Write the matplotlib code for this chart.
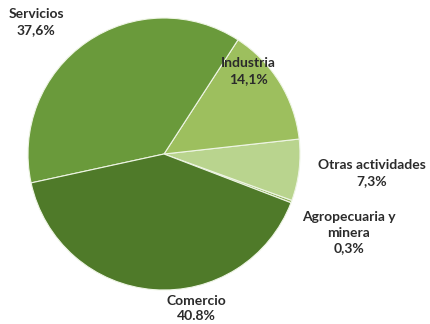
import matplotlib as mpl
mpl.use('Agg')
import matplotlib.pyplot as plt

# --- sector shares (counterclockwise from the small wedge at the right)
sectors = ['Agropecuaria y\nminera', 'Otras actividades', 'Industria', 'Servicios', 'Comercio']
shares = [0.3, 7.3, 14.1, 37.6, 40.8]
share_text = ['0,3%', '7,3%', '14,1%', '37,6%', '40.8%']
colors = ['#8fb25a', '#b9d48e', '#9dbf5e', '#6a9a3b', '#4f7a29']

# label anchor points in axis units (pie radius = 1)
label_xy = [(1.36, -0.58), (1.526, -0.14), (0.62, 0.61), (-0.94, 0.97), (0.235, -1.135)]

fig = plt.figure(figsize=(4.3, 3.24), dpi=100)
ax = fig.add_axes([0.0651, 0.1049, 0.6326, 0.8395])

ax.pie(shares, colors=colors, startangle=-21, counterclock=True, radius=1,
       wedgeprops={'edgecolor': '#eef5e4', 'linewidth': 0.8})

for name, txt, (x, y) in zip(sectors, share_text, label_xy):
    ax.text(x, y, f'{name}\n{txt}', ha='center', va='center', fontsize=10,
            fontweight='bold', family='Lato', color='#2b2b2b',
            linespacing=1.35, clip_on=False)

ax.set_xlim(-1, 1)
ax.set_ylim(-1, 1)
ax.set_aspect('equal')
ax.axis('off')

fig.savefig('out.png', dpi=100)
